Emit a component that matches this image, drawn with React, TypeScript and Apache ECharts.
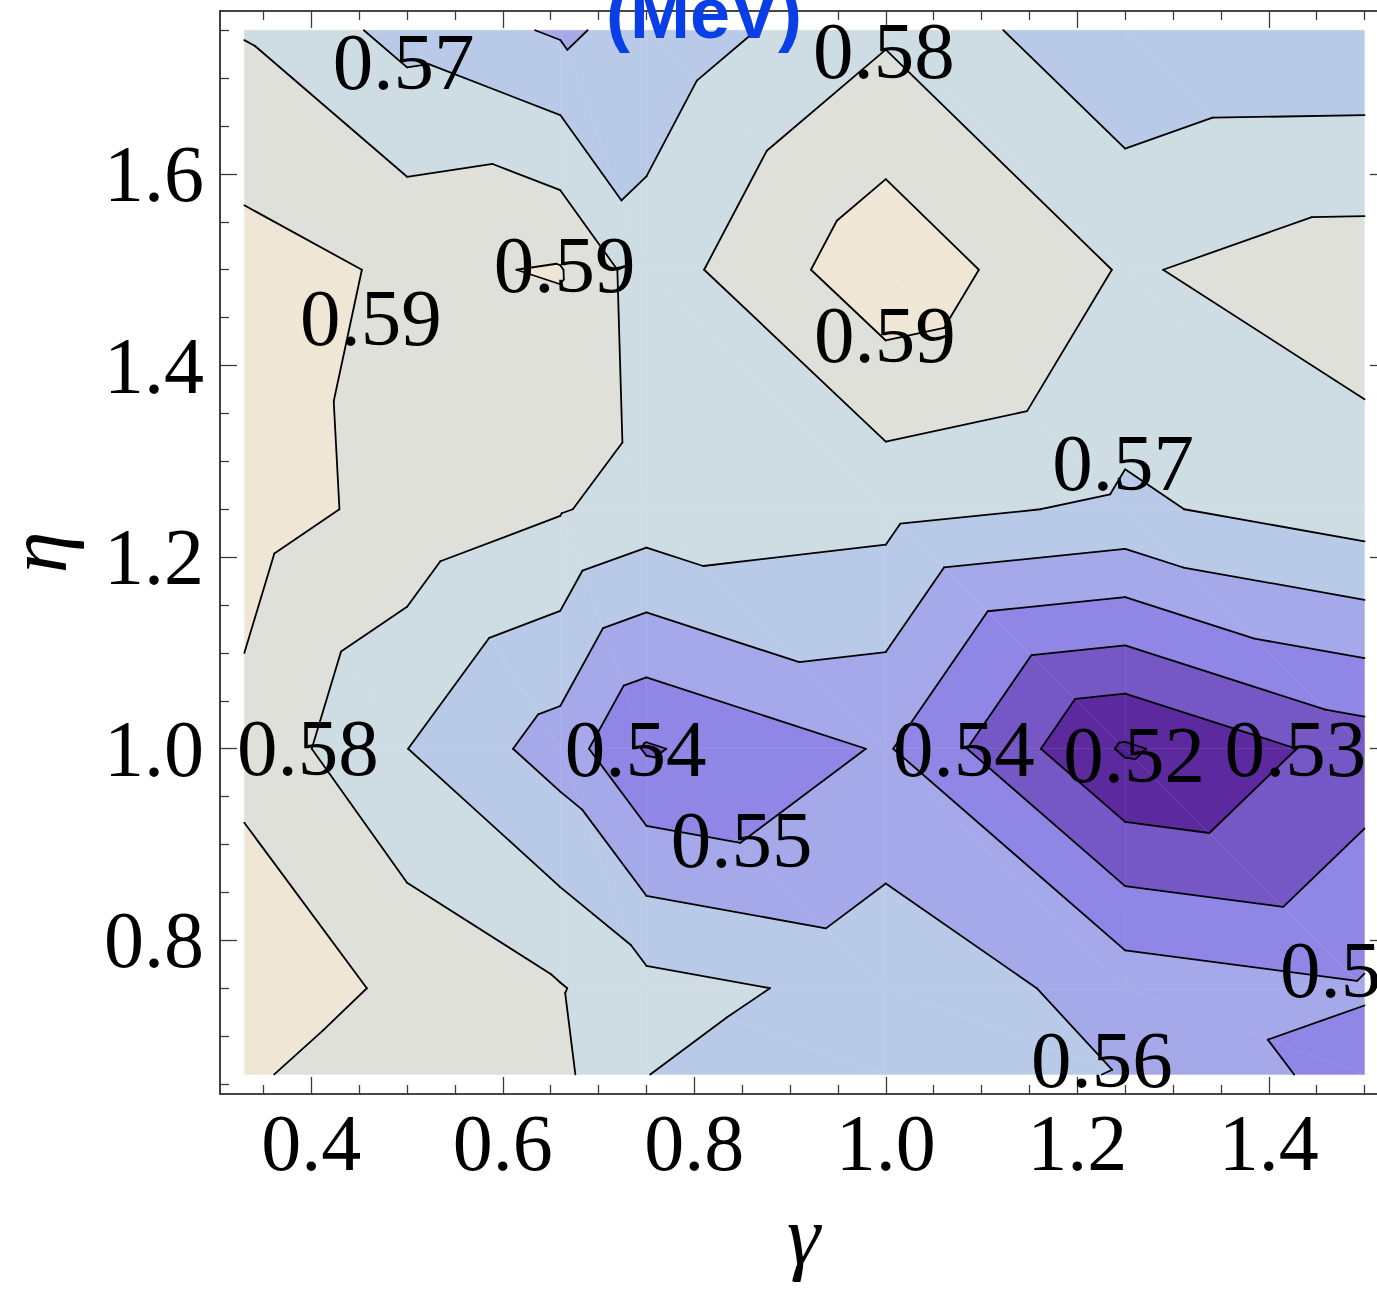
import React, { useEffect, useRef } from "react";
import * as echarts from "echarts";

// ---- data ----
const gammaValues = [0.33, 0.5, 0.66, 0.75, 1.0, 1.25, 1.5];
const etaValues = [0.66, 0.75, 1.0, 1.25, 1.5, 1.75];

// one row of values per eta, one column per gamma
const valuesEta066 = [0.5916, 0.5829, 0.5821, 0.5701, 0.5637, 0.5596, 0.546];
const valuesEta075 = [0.5967, 0.5878, 0.5806, 0.5732, 0.567, 0.5559, 0.551];
const valuesEta100 = [0.587, 0.5701, 0.5555, 0.539, 0.551, 0.5186, 0.5345];
const valuesEta125 = [0.5945, 0.5868, 0.5807, 0.5759, 0.5733, 0.5682, 0.5755];
const valuesEta150 = [0.5939, 0.5885, 0.5906, 0.5746, 0.597, 0.579, 0.5853];
const valuesEta175 = [0.5794, 0.5666, 0.5587, 0.5628, 0.5785, 0.5612, 0.5616];
const zGrid = [valuesEta066, valuesEta075, valuesEta100, valuesEta125, valuesEta150, valuesEta175];

const contourLevels = [0.52, 0.53, 0.54, 0.55, 0.56, 0.57, 0.58, 0.59];
const bandColors = [
  "#4b1c8c", "#5c2a9e", "#7558c5", "#9086e5", "#a5a8e9",
  "#b8cae8", "#cedce3", "#e0e0db", "#efe6d6",
];

const xTickLabels = [0.4, 0.6, 0.8, 1.0, 1.2, 1.4];
const yTickLabels = [0.8, 1.0, 1.2, 1.4, 1.6];
const xMinorTicks = [0.35, 0.45, 0.5, 0.55, 0.65, 0.7, 0.75, 0.85, 0.9, 0.95, 1.05, 1.1, 1.15, 1.25, 1.3, 1.35, 1.45, 1.5];
const yMinorTicks = [0.65, 0.7, 0.75, 0.85, 0.9, 0.95, 1.05, 1.1, 1.15, 1.25, 1.3, 1.35, 1.45, 1.5, 1.55, 1.65, 1.7, 1.75];

// contour labels: gamma, eta, text
const labelGamma = [0.4963, 0.9979, 0.6646, 0.4621, 0.999, 1.248, 0.3963, 0.7388, 1.0816, 1.2593, 1.4277, 0.8493, 1.4859, 1.2257];
const labelEta = [1.7168, 1.7283, 1.5049, 1.4496, 1.4318, 1.2982, 1.0007, 1.0, 1.0, 0.9934, 1.0, 0.9047, 0.7693, 0.675];
const labelText = ["0.57", "0.58", "0.59", "0.59", "0.59", "0.57", "0.58", "0.54", "0.54", "0.52", "0.53", "0.55", "0.55", "0.56"];

// ---- layout ----
const X_MIN = 0.3046;
const X_MAX = 1.5234;
const Y_MIN = 0.6397;
const Y_MAX = 1.7702;
const FRAME = "#3a3a3a";
const SERIF = "'Liberation Serif', 'Times New Roman', serif";

type P = [number, number, number];

function clip(poly: P[], lv: number, keepAbove: boolean): P[] {
  const out: P[] = [];
  const n = poly.length;
  for (let k = 0; k < n; k++) {
    const a = poly[k];
    const b = poly[(k + 1) % n];
    const ain = keepAbove ? a[2] >= lv : a[2] <= lv;
    const bin = keepAbove ? b[2] >= lv : b[2] <= lv;
    if (ain) out.push(a);
    if (ain !== bin) {
      const t = (lv - a[2]) / (b[2] - a[2]);
      out.push([a[0] + t * (b[0] - a[0]), a[1] + t * (b[1] - a[1]), lv]);
    }
  }
  return out;
}

function buildTriangles(): P[][] {
  const tris: P[][] = [];
  for (let j = 0; j < etaValues.length - 1; j++) {
    for (let i = 0; i < gammaValues.length - 1; i++) {
      const BL: P = [gammaValues[i], etaValues[j], zGrid[j][i]];
      const BR: P = [gammaValues[i + 1], etaValues[j], zGrid[j][i + 1]];
      const TL: P = [gammaValues[i], etaValues[j + 1], zGrid[j + 1][i]];
      const TR: P = [gammaValues[i + 1], etaValues[j + 1], zGrid[j + 1][i + 1]];
      tris.push([TL, TR, BR], [TL, BL, BR]);
    }
  }
  return tris;
}

function renderContours(params: any, api: any) {
  if (params.dataIndex !== 0) return null;
  const toPx = (p: P) => api.coord([p[0], p[1]]);
  const tris = buildTriangles();
  const children: any[] = [];
  for (let k = 0; k < bandColors.length; k++) {
    const lo = k === 0 ? null : contourLevels[k - 1];
    const hi = k === bandColors.length - 1 ? null : contourLevels[k];
    for (const tri of tris) {
      let poly: P[] = tri;
      if (lo !== null) poly = clip(poly, lo, true);
      if (poly.length >= 3 && hi !== null) poly = clip(poly, hi, false);
      if (poly.length >= 3) {
        children.push({
          type: "polygon",
          shape: { points: poly.map(toPx) },
          style: { fill: bandColors[k], stroke: bandColors[k], lineWidth: 0.4 },
          silent: true,
        });
      }
    }
  }
  for (const tri of tris) {
    for (const lv of contourLevels) {
      const pts: number[][] = [];
      for (let e = 0; e < 3; e++) {
        const a = tri[e];
        const b = tri[(e + 1) % 3];
        if ((a[2] - lv) * (b[2] - lv) < 0) {
          const t = (lv - a[2]) / (b[2] - a[2]);
          pts.push(toPx([a[0] + t * (b[0] - a[0]), a[1] + t * (b[1] - a[1]), lv]));
        }
      }
      if (pts.length === 2) {
        children.push({
          type: "polyline",
          shape: { points: pts },
          style: { stroke: "#000000", lineWidth: 1.8, fill: null, lineCap: "round" },
          silent: true,
        });
      }
    }
  }
  return { type: "group", children };
}

function renderLabels(params: any, api: any) {
  const c = api.coord([api.value(0), api.value(1)]);
  return {
    type: "text",
    x: c[0],
    y: c[1],
    silent: true,
    style: {
      text: labelText[params.dataIndex],
      fontFamily: SERIF,
      fontSize: 81,
      fill: "#000000",
      align: "center",
      verticalAlign: "middle",
    },
  };
}

function tickAxis(kind: "x" | "y", position: string, values: number[], length: number, withLabels: boolean, extra: any = {}) {
  return {
    type: "value",
    position,
    min: kind === "x" ? X_MIN : Y_MIN,
    max: kind === "x" ? X_MAX : Y_MAX,
    z: 10,
    axisLine: { show: true, onZero: false, lineStyle: { color: FRAME, width: 1.6 } },
    axisTick: { show: true, inside: true, length, customValues: values, lineStyle: { color: FRAME, width: 1.3 } },
    axisLabel: withLabels
      ? {
          show: true,
          customValues: values,
          formatter: (v: number) => v.toFixed(1),
          fontFamily: SERIF,
          fontSize: 80,
          color: "#000000",
          margin: kind === "x" ? 9 : 16,
        }
      : { show: false },
    splitLine: { show: false },
    ...extra,
  };
}

export default function App() {
  const ref = useRef<HTMLDivElement>(null);
  useEffect(() => {
    if (!ref.current) return;
    const chart = echarts.init(ref.current, undefined, { renderer: "svg" });
    const nameStyle = { fontFamily: SERIF, fontStyle: "italic", fontSize: 84, color: "#000000", lineHeight: 60 };
    const option: any = {
      animation: false,
      backgroundColor: "#ffffff",
      grid: {
        left: 220,
        top: 10.9,
        width: 1166.9,
        height: 1083,
        containLabel: false,
        outerBoundsMode: "none",
      },
      xAxis: [
        tickAxis("x", "bottom", xTickLabels, 17, true, {
          name: "γ",
          nameLocation: "middle",
          nameGap: 112,
          nameTextStyle: nameStyle,
        }),
        tickAxis("x", "bottom", xMinorTicks, 9, false),
        tickAxis("x", "top", xTickLabels, 17, false),
        tickAxis("x", "top", xMinorTicks, 9, false),
      ],
      yAxis: [
        tickAxis("y", "left", yTickLabels, 17, true, {
          name: "η",
          nameLocation: "middle",
          nameGap: 153,
          nameTextStyle: nameStyle,
        }),
        tickAxis("y", "left", yMinorTicks, 9, false),
        tickAxis("y", "right", yTickLabels, 17, false),
        tickAxis("y", "right", yMinorTicks, 9, false),
      ],
      series: [
        {
          type: "custom",
          xAxisIndex: 0,
          yAxisIndex: 0,
          data: [[gammaValues[0], etaValues[0]]],
          renderItem: renderContours,
          clip: false,
          silent: true,
          z: 2,
        },
        {
          type: "custom",
          xAxisIndex: 0,
          yAxisIndex: 0,
          data: labelGamma.map((g, i) => [g, labelEta[i]]),
          renderItem: renderLabels,
          clip: false,
          silent: true,
          z: 20,
        },
      ],
      graphic: [
        {
          type: "text",
          x: 606,
          y: 13,
          z: 100,
          silent: true,
          style: {
            text: "(MeV)",
            fill: "#0a3ee6",
            fontFamily: "'Liberation Sans', Arial, sans-serif",
            fontWeight: "bold",
            fontSize: 72,
            align: "left",
            verticalAlign: "middle",
          },
        },
      ],
    };
    chart.setOption(option);
    return () => chart.dispose();
  }, []);
  return (
    <div
      ref={ref}
      style={{ position: "absolute", left: 0, top: 0, width: 1377, height: 1289, background: "#fff" }}
    />
  );
}
